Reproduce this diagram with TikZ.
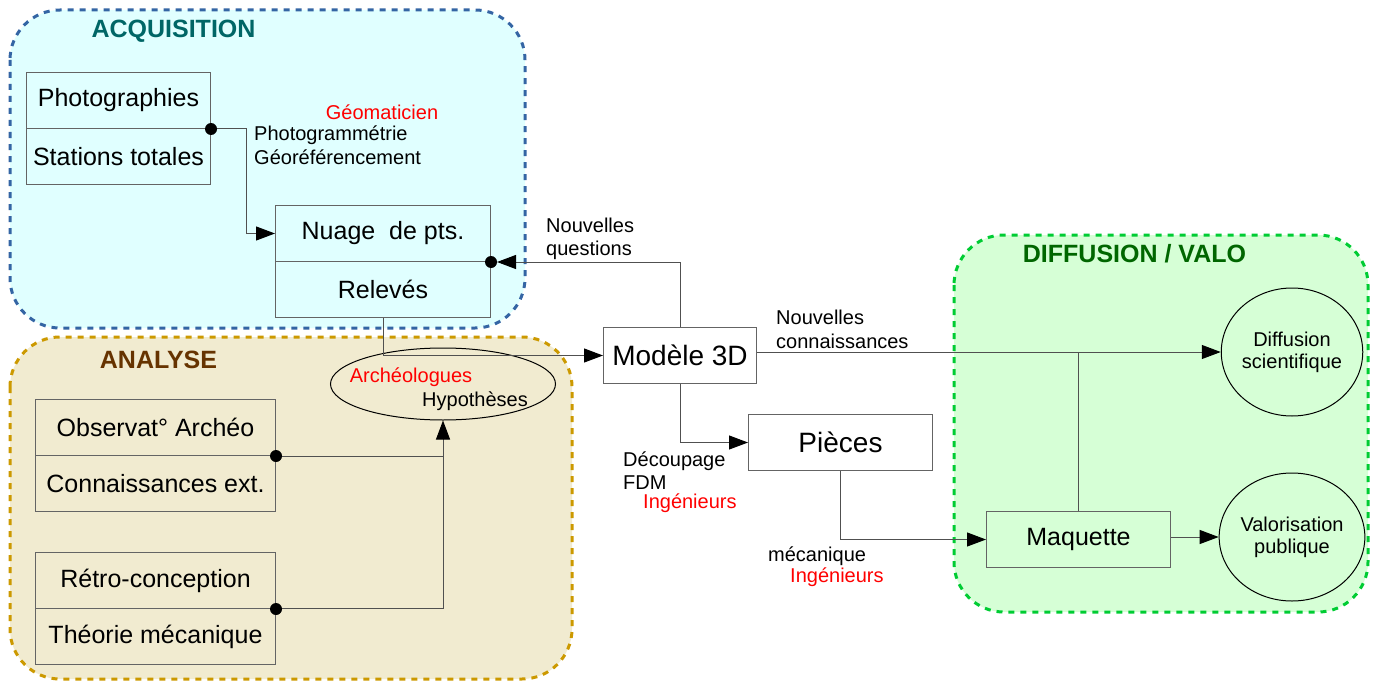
\documentclass[tikz,border=0pt]{standalone}
\usepackage{fontspec}
\setmainfont{Liberation Sans}
\usetikzlibrary{arrows.meta,shapes.geometric}
\definecolor{acqfill}{RGB}{224,255,255}
\definecolor{acqline}{RGB}{52,101,164}
\definecolor{acqtitle}{RGB}{0,102,102}
\definecolor{anafill}{RGB}{241,235,208}
\definecolor{analine}{RGB}{204,153,0}
\definecolor{anatitle}{RGB}{102,51,0}
\definecolor{diffill}{RGB}{214,255,214}
\definecolor{difline}{RGB}{0,204,51}
\definecolor{diftitle}{RGB}{0,102,0}
\definecolor{boxline}{RGB}{100,100,100}
\definecolor{connc}{RGB}{80,80,80}
\definecolor{redtxt}{RGB}{255,0,0}
\newcommand\myBig{\fontsize{25}{30}\selectfont}
\newcommand\myHuge{\fontsize{28}{33}\selectfont}
\newcommand\mySmall{\fontsize{20}{22}\selectfont}
\newcommand\myTitle{\fontsize{25}{30}\selectfont\bfseries}
\begin{document}
\begin{tikzpicture}[x=1pt,y=-1pt,
  region/.style={line width=3pt, dash pattern=on 6pt off 6pt, rounded corners=50pt},
  box/.style={draw=boxline, line width=1pt, inner sep=0pt, anchor=north west, font=\myBig},
  conn/.style={draw=connc, line width=1pt},
  arr/.style={conn, -{Triangle[length=19pt,width=14pt,color=black]}},
  lbl/.style={font=\mySmall, inner sep=0pt, anchor=west, text height=16pt, text depth=2pt},
  titlenode/.style={font=\myTitle, inner sep=0pt, text height=18pt, text depth=0pt},
  circ/.style={ellipse, draw=black, line width=1pt, inner sep=0pt, align=center, font=\mySmall}
]
\useasboundingbox (0,0) rectangle (1375,682);

% regions
\filldraw[region, fill=acqfill, draw=acqline] (10,10) rectangle (525,328);
\filldraw[region, fill=anafill, draw=analine] (10,337) rectangle (572,679);
\filldraw[region, fill=diffill, draw=difline] (954,235) rectangle (1368,612);

\node[titlenode, text=acqtitle] (tacq) at (173.5,29) {ACQUISITION};
\node[titlenode, text=anatitle] (tana) at (158.5,359) {ANALYSE};
\node[titlenode, text=diftitle] (tdif) at (1134.5,253) {DIFFUSION / VALO};

% boxes
\node[box, minimum width=184pt, minimum height=56pt] (photo) at (26,72) {Photographies};
\node[box, minimum width=184pt, minimum height=56pt] (stations) at (26,128) {Stations totales};
\node[box, minimum width=215pt, minimum height=56pt] (nuage) at (275,205) {Nuage\ \ de pts.};
\node[box, minimum width=215pt, minimum height=56pt] (releves) at (275,261) {Relevés};
\node[box, minimum width=240pt, minimum height=56pt] (observ) at (35,399) {Observat° Archéo};
\node[box, minimum width=240pt, minimum height=56pt] (connext) at (35,455) {Connaissances ext.};
\node[box, minimum width=240pt, minimum height=56pt] (retro) at (35,552) {Rétro-conception};
\node[box, minimum width=240pt, minimum height=56pt] (theorie) at (35,608) {Théorie mécanique};
\node[box, minimum width=153pt, minimum height=56pt, font=\myHuge] (modele) at (603,327) {Modèle 3D};
\node[box, minimum width=184pt, minimum height=56pt, font=\myHuge] (pieces) at (748,414) {Pièces};
\node[box, minimum width=184pt, minimum height=56pt] (maquette) at (986,511) {Maquette};

% ellipse and circles
\node[ellipse, draw=black, line width=1pt, minimum width=225pt, minimum height=72pt, inner sep=0pt] (hyp) at (443,384) {};
\node[lbl, anchor=center, text=redtxt] (archeo) at (411,375) {Archéologues};
\node[lbl, anchor=center] (hypo) at (475,399) {Hypothèses};
\node[circ, minimum width=138pt, minimum height=128pt] (diff) at (1292,352) {Diffusion\\scientifique};
\node[circ, minimum width=138pt, minimum height=128pt] (valo) at (1292,537) {Valorisation\\publique};

% connectors
\draw[arr] (photo.south east) -- ++(35,0) |- (nuage.west);
\draw[arr] (modele.north) |- ([xshift=6pt]nuage.south east);
\draw[arr] (releves.south) |- (modele.west);
\draw[arr] (modele.south) |- (pieces.west);
\draw[arr] (pieces.south) |- (maquette.west);
\draw[arr] (diff.west -| modele.east) -- (diff.west);
\draw[conn] (maquette.north) -- (maquette.north |- diff.west);
\draw[arr] (maquette.east |- valo.west) -- (valo.west);
\draw[conn] (observ.south east) -- (observ.south east -| hyp.south);
\draw[arr] (theorie.north east) -| (hyp.south);

% dots
\fill (photo.south east) circle (6pt);
\fill (nuage.south east) circle (6pt);
\fill (observ.south east) circle (6pt);
\fill (retro.south east) circle (6pt);

% labels
\node[lbl, anchor=center, text=redtxt] (geo) at (382,113) {Géomaticien};
\node[lbl] (photog) at (254,133) {Photogrammétrie};
\node[lbl] (georef) at (254,157) {Géoréférencement};
\node[lbl] (nq1) at (546,225) {Nouvelles};
\node[lbl] (nq2) at (546,248) {questions};
\node[lbl] (nc1) at (776,317) {Nouvelles};
\node[lbl] (nc2) at (776,341) {connaissances};
\node[lbl] (dec) at (623,459) {Découpage};
\node[lbl] (fdm) at (623,482) {FDM};
\node[lbl, text=redtxt] (ing1) at (643,501) {Ingénieurs};
\node[lbl] (meca) at (768,554) {mécanique};
\node[lbl, text=redtxt] (ing2) at (790,575) {Ingénieurs};
\end{tikzpicture}
\end{document}
